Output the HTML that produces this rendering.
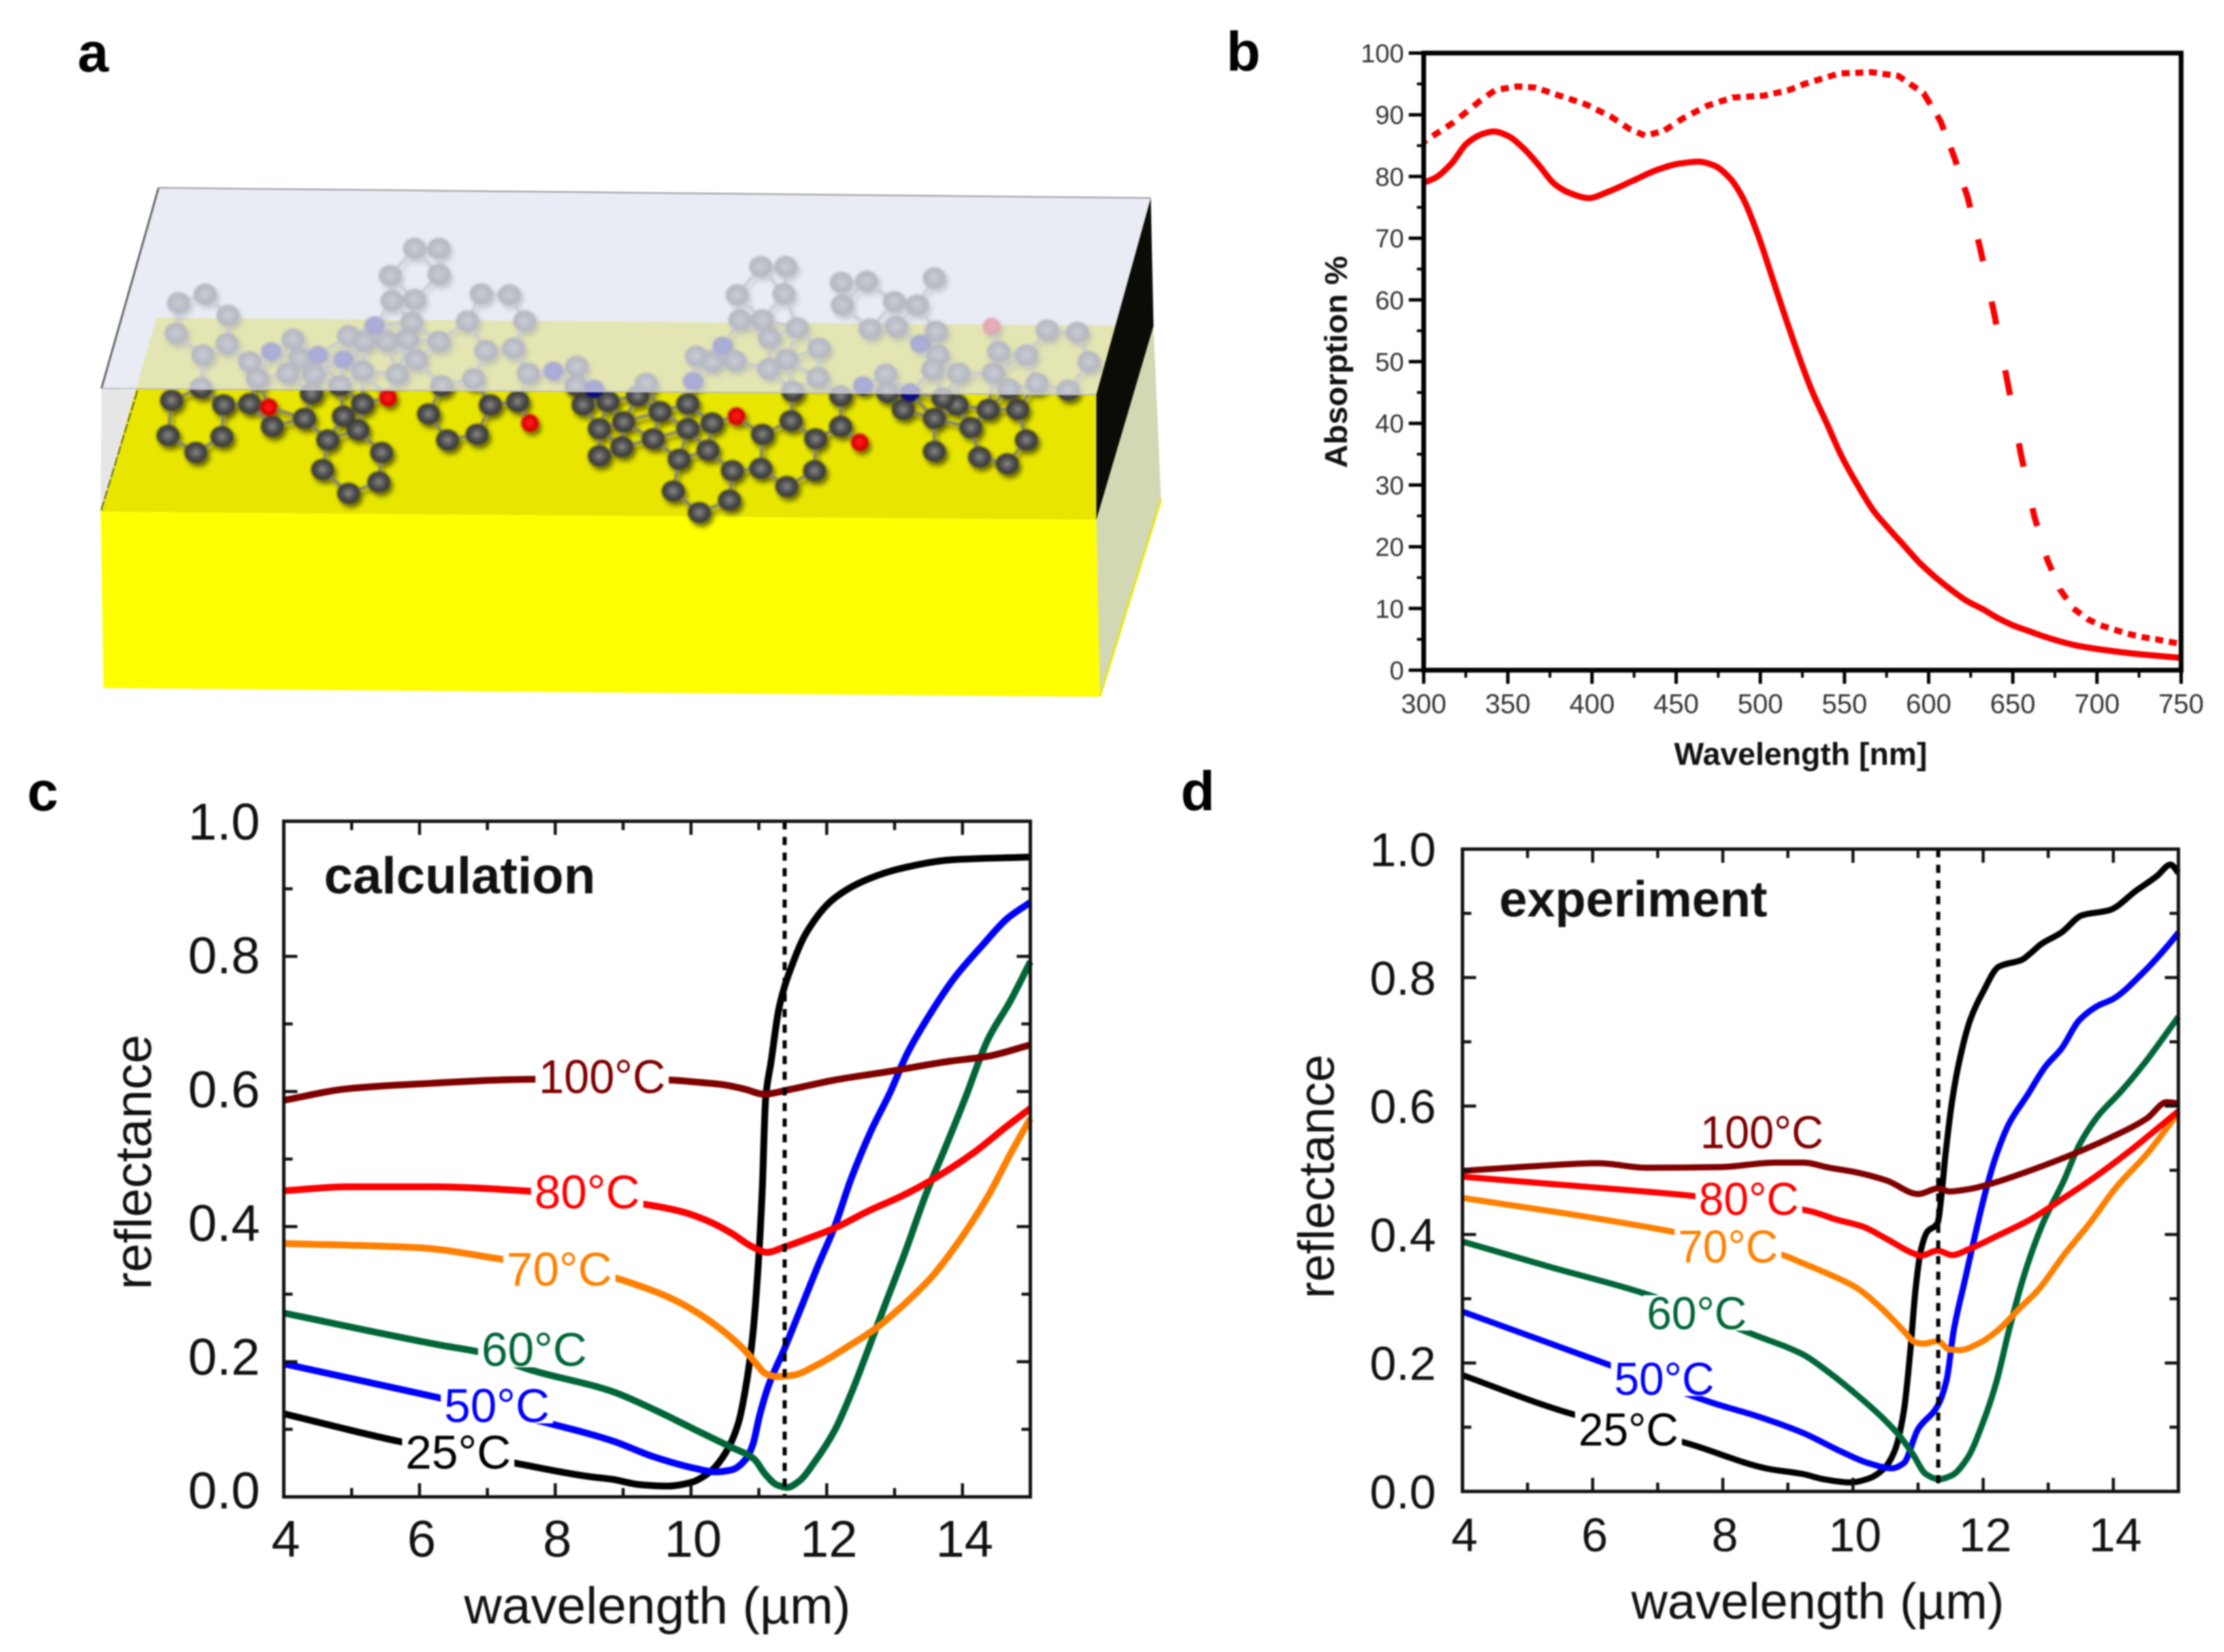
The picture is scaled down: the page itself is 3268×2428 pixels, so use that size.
<!DOCTYPE html>
<html lang="en">
<head>
<meta charset="utf-8">
<title>Reflectance figure</title>
<style>
html,body{margin:0;padding:0;background:#fff;}
svg{display:block;filter:blur(1px);}
text{font-family:"Liberation Sans",sans-serif;}
</style>
</head>
<body>
<svg id="fig" xmlns="http://www.w3.org/2000/svg" width="3268" height="2428" viewBox="0 0 3268 2428">
<defs>
<radialGradient id="atomFill" cx="50%" cy="50%" r="55%">
<stop offset="0%" stop-color="#8c8c8c"/><stop offset="40%" stop-color="#5a5a5a"/><stop offset="100%" stop-color="#2a2a2a"/>
</radialGradient>
<radialGradient id="redFill" cx="50%" cy="50%" r="55%">
<stop offset="0%" stop-color="#ff2020"/><stop offset="70%" stop-color="#e00000"/><stop offset="100%" stop-color="#900"/>
</radialGradient>
<radialGradient id="blueFill" cx="50%" cy="50%" r="55%">
<stop offset="0%" stop-color="#1a1aa0"/><stop offset="100%" stop-color="#00006a"/>
</radialGradient>
<filter id="atomShadow" x="-5%" y="-5%" width="110%" height="110%">
<feGaussianBlur in="SourceAlpha" stdDeviation="3.5" result="b"/>
<feOffset in="b" dx="4" dy="6" result="o"/>
<feComponentTransfer in="o" result="s"><feFuncA type="linear" slope="0.55"/></feComponentTransfer>
<feMerge><feMergeNode in="s"/><feMergeNode in="SourceGraphic"/></feMerge>
</filter>
</defs>

<rect width="3268" height="2428" fill="#fff"/>

<g>
<polygon points="1695,479 1706,734 1616,1024 1611,764" fill="#d3d8b4"/>
<line x1="1706" y1="734" x2="1616" y2="1024" stroke="#e6e600" stroke-width="3"/>
<polygon points="149,571 202,574 148,752" fill="#e6e6e6"/>
<polygon points="230,467 1695,479 1611,764 148,752" fill="#e8e600"/>
<polygon points="148,752 1611,764 1616,1024 152,1011" fill="#ffff00"/>
<line x1="202" y1="574" x2="148" y2="752" stroke="#5a5a20" stroke-width="2" stroke-dasharray="14 3"/>
<g id="molecules" filter="url(#atomShadow)" style="filter:url(#atomShadow) blur(1.5px)"></g>
<polygon points="233,276 1691,291 1611,580 149,571" fill="rgb(225,228,242)" fill-opacity="0.74"/>
<line x1="233" y1="276" x2="149" y2="571" stroke="#666" stroke-width="3"/>
<line x1="233" y1="276" x2="1691" y2="291" stroke="#999" stroke-width="2"/>
<line x1="149" y1="571" x2="1611" y2="580" stroke="#bbb" stroke-width="2"/>
<polygon points="1691,291 1695,479 1611,764 1611,580" fill="#0c0c06"/>
</g>

<text x="114" y="105" font-size="82" font-weight="700">a</text>
<text x="1802" y="104" font-size="82" font-weight="700">b</text>
<text x="40" y="1191" font-size="82" font-weight="700">c</text>
<text x="1735" y="1191" font-size="82" font-weight="700">d</text>

<g id="chartB"></g>
<g id="chartC"></g>
<g id="chartD"></g>
</svg>

<script>
/* ---------- Panel b data ---------- */
const bXTickLabels = ['300','350','400','450','500','550','600','650','700','750'];
const bYTickLabels = ['0','10','20','30','40','50','60','70','80','90','100'];
const bSolidX = [300,307,316.5,325.8,335,341.5,349.9,359.2,368.5,377.7,387,398.2,409.3,424.2,439,452,463.2,472.4,481.7,489.1,498.4,507.7,517,530,539.3,548.6,557.8,567.1,576.4,585.7,595,604.3,613.5,622.8,632.1,641.4,650.7,660,669.2,687.8,706.4,725,750];
const bSolidY = [79,79.8,82.1,85.4,86.9,87.3,86.6,84.6,81.8,78.8,77.3,76.5,77.5,79.3,81.1,82.1,82.4,81.8,79.8,76.8,70.7,63.1,55.5,45.7,40.1,34.5,30,25.9,22.9,20.1,17.3,15,13,11.2,9.9,8.4,7.2,6.3,5.4,4,3.2,2.6,2];
const bDottedX = [300,317.4,333.2,342.5,355.5,366.6,379.6,396.3,411.2,422.3,431.6,442.7,453.9,468.7,483.6,502.1,517,526.3,547,566,582,597,607,615,623,630.5,639,647,654.8,662.7,670.5,678,686,694.3,701.7,710,718.4,725.9,735,747,750];
const bDottedY = [85.6,88.7,92.2,94,94.6,94.4,93.2,91.7,89.7,87.7,86.6,87.4,89.4,91.5,92.8,93.1,94,95,96.7,96.9,96.3,93.5,89,83.3,76.8,68.5,57.7,46.5,35,25,17.9,13.1,10,8.3,7.3,6.6,5.9,5.4,5,4.4,4.2];

/* ---------- Panels c/d shared ticks ---------- */
const wavelengthTickLabels = ['4','6','8','10','12','14'];
const reflectanceTickLabels = ['0.0','0.2','0.4','0.6','0.8','1.0'];

/* ---------- Panel c data (calculation) ---------- */
const c25X = [4,5.66,7.4,8.5,8.84,9.25,9.66,9.99,10.28,10.52,10.7,10.81,10.91,10.99,11.05,11.1,11.18,11.3,11.5,11.7,12.1,12.6,13.13,13.85,15];
const c25Y = [.123,.083,.05,.03,.026,.018,.016,.021,.037,.067,.11,.164,.239,.342,.455,.59,.644,.725,.79,.835,.885,.914,.931,.943,.947];
const c50X = [4,6.27,7.9,8.84,9.46,10.07,10.36,10.6,10.81,10.91,11.01,11.14,11.38,11.63,11.87,12.12,12.36,12.65,12.94,13.18,13.47,13.88,14.29,14.66,15];
const c50Y = [.197,.147,.109,.083,.059,.042,.037,.04,.056,.077,.12,.164,.22,.282,.342,.401,.471,.541,.6,.655,.706,.768,.816,.856,.88];
const c60X = [4,6.34,6.9,7.6,8.84,9.46,10.07,10.56,10.93,11.09,11.26,11.42,11.59,11.83,12.12,12.36,12.61,12.85,13.14,13.47,13.76,14.04,14.37,14.7,15];
const c60Y = [.272,.224,.214,.189,.156,.129,.099,.075,.056,.034,.018,.014,.023,.053,.099,.153,.218,.282,.358,.45,.52,.59,.676,.733,.792];
const c70X = [4,5.96,7.2,8.84,9.25,9.66,10.07,10.48,10.81,10.97,11.09,11.26,11.5,11.87,12.32,12.73,13.14,13.55,13.96,14.37,14.74,15];
const c70Y = [.375,.369,.352,.325,.312,.296,.274,.245,.215,.196,.183,.178,.18,.196,.223,.25,.285,.326,.38,.444,.514,.56];
const c80X = [4,4.94,6.17,7.55,9.25,9.87,10.28,10.6,10.89,11.12,11.38,11.71,12.12,12.61,13.14,13.63,14.16,14.66,15];
const c80Y = [.453,.459,.459,.453,.434,.422,.407,.39,.371,.362,.37,.382,.398,.423,.447,.474,.509,.549,.575];
const c100X = [4,4.94,5.96,7.7,9.64,10.07,10.48,10.81,11.07,11.46,12.12,12.94,13.76,14.37,15];
const c100Y = [.587,.604,.611,.618,.617,.614,.61,.603,.596,.603,.617,.63,.644,.652,.669];

/* ---------- Panel d data (experiment) ---------- */
const d25X = [4,5.57,7.45,8.71,9.235,9.55,9.96,10.24,10.48,10.64,10.78,10.88,10.96,11.04,11.14,11.3,11.36,11.42,11.52,11.64,11.8,12,12.24,12.6,12.74,12.89,13.2,13.52,13.94,14.36,14.67,14.88,15];
const d25Y = [.181,.124,.075,.035,.027,.019,.014,.02,.036,.063,.124,.218,.313,.374,.404,.418,.462,.523,.606,.673,.734,.778,.817,.828,.839,.852,.87,.897,.905,.936,.958,.976,.963];
const d50X = [4,6.2,7.87,8.5,9.235,9.84,10.24,10.6,10.78,11,11.3,11.44,11.55,11.72,11.88,12.04,12.2,12.4,12.68,12.96,13.2,13.48,13.76,14,14.44,14.84,15];
const d50Y = [.28,.199,.137,.118,.091,.061,.044,.036,.044,.097,.133,.174,.252,.329,.401,.468,.523,.573,.617,.662,.689,.734,.756,.767,.806,.85,.87];
const d60X = [4,5.36,6.77,8.5,9.235,9.635,10.04,10.44,10.72,10.92,11.12,11.32,11.52,11.76,12,12.2,12.4,12.64,12.92,13.24,13.48,13.76,14.12,14.48,15];
const d60Y = [.389,.349,.309,.243,.213,.185,.152,.116,.086,.058,.027,.019,.025,.052,.108,.169,.252,.34,.418,.484,.54,.584,.623,.667,.739];
const d70X = [4,5.57,7.14,8.92,9.235,9.635,10.04,10.44,10.76,10.96,11.08,11.3,11.48,11.64,11.96,12.24,12.56,12.84,13.24,13.64,14.04,14.52,15];
const d70Y = [.457,.433,.406,.368,.355,.338,.318,.285,.252,.232,.23,.234,.221,.22,.232,.252,.285,.313,.368,.418,.473,.526,.59];
const d80X = [4,5.57,7.45,9.315,9.755,10.16,10.52,10.92,11.04,11.3,11.52,11.8,12.24,12.72,13.24,13.64,14.24,14.64,15];
const d80Y = [.49,.477,.461,.437,.423,.412,.393,.371,.367,.375,.368,.378,.399,.423,.457,.484,.529,.562,.592];
const d100X = [4,5.05,6.09,6.82,7.97,8.8,9.235,9.635,10.04,10.52,11,11.32,11.48,11.8,12.12,12.76,13.4,13.96,14.52,14.82,15];
const d100Y = [.499,.506,.511,.504,.505,.512,.512,.504,.497,.484,.463,.472,.467,.471,.479,.501,.526,.551,.581,.606,.604];

/* ---------- Panel a atom sketch coordinates ---------- */
const atomsLeft = [[200,865],[190,1020],[270,1095],[345,1025],[350,885],[285,810],[425,880],[490,980],[583,945],[603,835],[650,1040],[737,995],[750,880],[695,935],[685,800],[805,1095],[797,1225],[710,1275],[635,1170],[940,925],[995,1040],[1080,1015],[1118,885],[1197,870],[1385,885],[220,435],[297,397],[363,490],[213,570],[290,665],[360,615],[425,695],[447,770],[550,595],[535,745],[570,680],[610,750],[710,580],[755,605],[820,605],[880,595],[892,520],[905,685],[970,605],[850,750],[750,735],[835,425],[900,420],[830,315],[900,195],[970,195],[970,310],[1092,395],[1173,400],[1052,515],[1217,515],[1105,645],[1185,635],[1070,770],[1227,745],[978,800],[1367,715],[1365,800]];
const nitrogenLeft = [[487,650],[622,665],[695,685],[785,535],[1300,735]];
const oxygenLeft = [[480,895],[823,853],[1232,965]];
const atomsRight = [[85,870],[170,845],[235,915],[315,880],[60,990],[125,1070],[60,1110],[130,960],[215,1035],[315,990],[385,965],[290,1125],[373,1085],[443,1175],[435,1305],[348,1360],[273,1265],[617,825],[612,955],[530,1015],[525,1165],[600,1245],[680,1175],[683,1035],[755,980],[755,845],[935,905],[890,830],[1025,945],[1025,1090],[1090,885],[1130,985],[1155,1115],[1235,1145],[1290,1040],[1265,905],[1180,905],[1050,855],[525,275],[597,275],[457,400],[592,395],[465,510],[530,510],[550,590],[630,545],[693,635],[600,685],[548,725],[690,765],[340,670],[385,695],[450,690],[195,790],[885,750],[757,345],[830,340],[760,445],[840,550],[910,430],[915,540],[975,445],[1025,325],[1030,560],[1035,665],[1020,730],[1095,745],[1195,745],[1210,650],[1290,665],[1350,555],[1437,565],[1470,695],[1320,790],[1410,820],[1240,815]];
const nitrogenRight = [[45,815],[415,625],[330,780],[820,800],[955,830],[985,615]];
const oxygenRight = [[455,935],[810,1050],[1190,540]];

/* ---------- Helpers ---------- */
const NS = 'http://www.w3.org/2000/svg';
function mk(parent, tag, name, attrs) {
  const el = document.createElementNS(NS, tag);
  
  
  for (const k in attrs) el.setAttribute(k, attrs[k]);
  parent.appendChild(el);
  return el;
}
function txt(parent, name, str, attrs) {
  const el = mk(parent, 'text', name, attrs);
  el.textContent = str;
  return el;
}
function scale(d0, d1, r0, r1) { return v => r0 + (v - d0) * (r1 - r0) / (d1 - d0); }

/* monotone cubic through data points, so curves stay smooth with no overshoot */
function curvePath(xs, ys) {
  const n = xs.length, m = [], dx = [], s = [];
  for (let i = 0; i < n - 1; i++) { dx[i] = xs[i+1] - xs[i]; s[i] = (ys[i+1] - ys[i]) / dx[i]; }
  m[0] = s[0]; m[n-1] = s[n-2];
  for (let i = 1; i < n - 1; i++) {
    if (s[i-1] * s[i] <= 0) m[i] = 0;
    else {
      const w1 = 2 * dx[i] + dx[i-1], w2 = dx[i] + 2 * dx[i-1];
      m[i] = (w1 + w2) / (w1 / s[i-1] + w2 / s[i]);
    }
  }
  let d = 'M' + xs[0].toFixed(1) + ' ' + ys[0].toFixed(1);
  for (let i = 0; i < n - 1; i++) {
    const h = dx[i] / 3;
    d += 'C' + (xs[i] + h).toFixed(1) + ' ' + (ys[i] + m[i] * h).toFixed(1) + ' ' +
         (xs[i+1] - h).toFixed(1) + ' ' + (ys[i+1] - m[i+1] * h).toFixed(1) + ' ' +
         xs[i+1].toFixed(1) + ' ' + ys[i+1].toFixed(1);
  }
  return d;
}
function series(parent, name, xData, yData, sx, sy, color, width) {
  mk(parent, 'path', name, {
    d: curvePath(xData.map(sx), yData.map(sy)),
    fill: 'none', stroke: color, 'stroke-width': width, 'stroke-linejoin': 'round'
  });
}
function valueAt(xData, yData, x) {
  for (let i = 0; i < xData.length - 1; i++) {
    if (x <= xData[i+1]) {
      return yData[i] + (yData[i+1] - yData[i]) * (x - xData[i]) / (xData[i+1] - xData[i]);
    }
  }
  return yData[yData.length - 1];
}

/* ---------- Panel a ---------- */
(function () {
  const g = document.getElementById('molecules');
  const ax = z => 150 + z / 1.96, bx = z => 850 + z / 1.96, py = z => 300 + z / 3;
  const carbons = atomsLeft.map(p => [ax(p[0]), py(p[1])]).concat(atomsRight.map(p => [bx(p[0]), py(p[1])]));
  const nitrogens = nitrogenLeft.map(p => [ax(p[0]), py(p[1])]).concat(nitrogenRight.map(p => [bx(p[0]), py(p[1])]));
  const oxygens = oxygenLeft.map(p => [ax(p[0]), py(p[1])]).concat(oxygenRight.map(p => [bx(p[0]), py(p[1])]));
  const all = carbons.concat(nitrogens, oxygens);
  for (let i = 0; i < all.length; i++) {
    for (let j = i + 1; j < all.length; j++) {
      const dist = Math.hypot(all[i][0] - all[j][0], all[i][1] - all[j][1]);
      if (dist < 56) {
        mk(g, 'line', 'molecule-bond', { x1: all[i][0], y1: all[i][1], x2: all[j][0], y2: all[j][1], stroke: '#777', 'stroke-width': 4 });
      }
    }
  }
  carbons.forEach(p => mk(g, 'ellipse', 'carbon-atom', { cx: p[0], cy: p[1], rx: 17, ry: 15.5, fill: 'url(#atomFill)' }));
  nitrogens.forEach(p => mk(g, 'ellipse', 'nitrogen-atom', { cx: p[0], cy: p[1], rx: 15, ry: 13.5, fill: 'url(#blueFill)' }));
  oxygens.forEach(p => mk(g, 'ellipse', 'oxygen-atom', { cx: p[0], cy: p[1], rx: 13, ry: 13, fill: 'url(#redFill)' }));
})();

/* ---------- Panel b ---------- */
(function () {
  const g = document.getElementById('chartB');
  const L = 2092, R = 3205, T = 78, B = 985;
  const sx = scale(300, 750, L, R), sy = scale(0, 100, B, T);
  series(g, 'absorption-solid-line', bSolidX, bSolidY, sx, sy, '#f80000', 9);
  /* dash period follows the wavelength axis; dashes shorten on the steep flank */
  const period = 8.1;
  for (let w = 297.2; w < 750; w += period) {
    const a = Math.max(300, w);
    const slope = Math.abs(valueAt(bDottedX, bDottedY, a + 1) - valueAt(bDottedX, bDottedY, a));
    const len = 4.8 - 2 * Math.min(1, slope / 1.2);
    const b = Math.min(750, w + len);
    if (b <= a) continue;
    const xs = [a], ys = [valueAt(bDottedX, bDottedY, a)];
    bDottedX.forEach((v, i) => { if (v > a && v < b) { xs.push(v); ys.push(bDottedY[i]); } });
    xs.push(b); ys.push(valueAt(bDottedX, bDottedY, b));
    mk(g, 'polyline', 'absorption-dotted-segment', {
      points: xs.map((v, i) => sx(v).toFixed(1) + ',' + sy(ys[i]).toFixed(1)).join(' '),
      fill: 'none', stroke: '#f80000', 'stroke-width': 9
    });
  }
  mk(g, 'rect', 'plot-frame', { x: L, y: T, width: R - L, height: B - T, fill: 'none', stroke: '#000', 'stroke-width': 7 });
  bXTickLabels.forEach(lbl => {
    const v = parseFloat(lbl), x = sx(v);
    mk(g, 'line', 'x-tick', { x1: x, y1: B, x2: x, y2: B + 20, stroke: '#000', 'stroke-width': 5 });
    txt(g, 'x-tick-label', lbl, { x: x, y: B + 63, 'font-size': 40, 'text-anchor': 'middle', fill: '#333' });
    if (v < 750) {
      const xm = sx(v + 25);
      mk(g, 'line', 'x-minor-tick', { x1: xm, y1: B, x2: xm, y2: B + 11, stroke: '#000', 'stroke-width': 4 });
    }
  });
  bYTickLabels.forEach(lbl => {
    const v = parseFloat(lbl), y = sy(v);
    mk(g, 'line', 'y-tick', { x1: L, y1: y, x2: L - 22, y2: y, stroke: '#000', 'stroke-width': 5 });
    txt(g, 'y-tick-label', lbl, { x: 2063, y: y + 13.5, 'font-size': 38, 'text-anchor': 'end', fill: '#333' });
    if (v < 100) {
      const ym = sy(v + 5);
      mk(g, 'line', 'y-minor-tick', { x1: L, y1: ym, x2: L - 10, y2: ym, stroke: '#000', 'stroke-width': 4 });
    }
  });
  txt(g, 'x-axis-title', 'Wavelength [nm]', { x: 2646, y: 1124, 'font-size': 46, 'font-weight': 700, 'text-anchor': 'middle', textLength: 372, lengthAdjust: 'spacingAndGlyphs', fill: '#111' });
  txt(g, 'y-axis-title', 'Absorption %', { transform: 'translate(1979,532) rotate(-90)', 'font-size': 46, 'font-weight': 700, 'text-anchor': 'middle', textLength: 312, lengthAdjust: 'spacingAndGlyphs', fill: '#111' });
})();

/* ---------- Panels c and d ---------- */
const tempColors = { t25: '#000000', t50: '#0000ff', t60: '#006638', t70: '#ff8000', t80: '#ff0000', t100: '#800000' };

function reflectanceChart(g, box, text, seriesList, labels) {
  const sx = scale(4, 15, box.L, box.R), sy = scale(0, 1, box.B, box.T);
  seriesList.forEach(s => series(g, s.name, s.x, s.y, sx, sy, s.color, box.lineWidth));
  labels.forEach(l => {
    const px = sx(l.x), py = sy(l.y), w = l.text.length > 4 ? box.wideLabel : box.narrowLabel;
    mk(g, 'rect', 'curve-label-mask', { x: px - w / 2 - 5, y: py - 26, width: w + 10, height: 52, fill: '#fff' });
    txt(g, 'curve-label', l.text, { x: px, y: py + 24, 'font-size': box.labelSize, 'text-anchor': 'middle', textLength: w, lengthAdjust: 'spacingAndGlyphs', fill: l.color });
  });
  const dashX = sx(box.dash);
  mk(g, 'line', 'resonance-marker-line', { x1: dashX, y1: box.T, x2: dashX, y2: box.B, stroke: '#000', 'stroke-width': 6, 'stroke-dasharray': '12 11' });
  mk(g, 'rect', 'plot-frame', { x: box.L, y: box.T, width: box.R - box.L, height: box.B - box.T, fill: 'none', stroke: '#111', 'stroke-width': 5 });
  for (let w = 4; w <= 15; w++) {
    const x = sx(w), major = w % 2 === 0, t = major ? 20 : 13;
    mk(g, 'line', 'x-tick', { x1: x, y1: box.B, x2: x, y2: box.B - t, stroke: '#111', 'stroke-width': 4.5 });
    mk(g, 'line', 'x-top-tick', { x1: x, y1: box.T, x2: x, y2: box.T + t, stroke: '#111', 'stroke-width': 4.5 });
  }
  for (let i = 1; i < 10; i++) {
    const y = sy(i / 10), t = i % 2 === 0 ? 20 : 13;
    mk(g, 'line', 'y-tick', { x1: box.L, y1: y, x2: box.L + t, y2: y, stroke: '#111', 'stroke-width': 4.5 });
    mk(g, 'line', 'y-right-tick', { x1: box.R, y1: y, x2: box.R - t, y2: y, stroke: '#111', 'stroke-width': 4.5 });
  }
  wavelengthTickLabels.forEach(lbl => {
    txt(g, 'x-tick-label', lbl, { x: sx(parseFloat(lbl)) + 3, y: box.xLabelY, 'font-size': box.tickSize, 'text-anchor': 'middle', fill: '#111' });
  });
  reflectanceTickLabels.forEach(lbl => {
    const v = parseFloat(lbl);
    txt(g, 'y-tick-label', lbl, { x: box.yLabelX, y: sy(v) + box.tickSize * 0.357 - box.labelDrift * (1 - v), 'font-size': box.tickSize, 'text-anchor': 'end', fill: '#111' });
  });
  txt(g, 'x-axis-title', 'wavelength (µm)', { x: box.xTitleX, y: box.xTitleY, 'font-size': box.titleSize, 'text-anchor': 'middle', textLength: box.xTitleLen, lengthAdjust: 'spacingAndGlyphs', fill: '#111' });
  txt(g, 'y-axis-title', 'reflectance', { transform: 'translate(' + box.yTitleX + ',' + box.yTitleY + ') rotate(-90)', 'font-size': box.titleSize, 'text-anchor': 'middle', textLength: box.yTitleLen, lengthAdjust: 'spacingAndGlyphs', fill: '#111' });
  txt(g, 'panel-title', text.str, { x: text.x, y: text.y, 'font-size': box.titleSize, 'font-weight': 700, textLength: text.len, lengthAdjust: 'spacingAndGlyphs', fill: '#111' });
}

reflectanceChart(document.getElementById('chartC'),
  { L: 417, R: 1514, T: 1207, B: 2200, dash: 11.38, lineWidth: 10, tickSize: 76, labelDrift: 10, labelSize: 70, wideLabel: 186, narrowLabel: 155, xLabelY: 2288, yLabelX: 382, xTitleX: 966, xTitleY: 2386, titleSize: 76, xTitleLen: 568, yTitleX: 222, yTitleY: 1708, yTitleLen: 375 },
  { str: 'calculation', x: 476, y: 1313, len: 399 },
  [
    { name: 'line-25c', x: c25X, y: c25Y, color: tempColors.t25 },
    { name: 'line-50c', x: c50X, y: c50Y, color: tempColors.t50 },
    { name: 'line-60c', x: c60X, y: c60Y, color: tempColors.t60 },
    { name: 'line-70c', x: c70X, y: c70Y, color: tempColors.t70 },
    { name: 'line-80c', x: c80X, y: c80Y, color: tempColors.t80 },
    { name: 'line-100c', x: c100X, y: c100Y, color: tempColors.t100 }
  ],
  [
    { text: '100°C', x: 8.69, y: .622, color: tempColors.t100 },
    { text: '80°C', x: 8.47, y: .451, color: tempColors.t80 },
    { text: '70°C', x: 8.06, y: .337, color: tempColors.t70 },
    { text: '60°C', x: 7.69, y: .218, color: tempColors.t60 },
    { text: '50°C', x: 7.14, y: .135, color: tempColors.t50 },
    { text: '25°C', x: 6.57, y: .066, color: tempColors.t25 }
  ]);

reflectanceChart(document.getElementById('chartD'),
  { L: 2149, R: 3201, T: 1248, B: 2192, dash: 11.31, lineWidth: 9, tickSize: 70, labelDrift: 0, labelSize: 68, wideLabel: 181, narrowLabel: 147, xLabelY: 2280, yLabelX: 2110, xTitleX: 2671, xTitleY: 2379, titleSize: 74, xTitleLen: 548, yTitleX: 1960, yTitleY: 1729, yTitleLen: 359 },
  { str: 'experiment', x: 2203, y: 1347, len: 394 },
  [
    { name: 'line-25c', x: d25X, y: d25Y, color: tempColors.t25 },
    { name: 'line-50c', x: d50X, y: d50Y, color: tempColors.t50 },
    { name: 'line-60c', x: d60X, y: d60Y, color: tempColors.t60 },
    { name: 'line-70c', x: d70X, y: d70Y, color: tempColors.t70 },
    { name: 'line-80c', x: d80X, y: d80Y, color: tempColors.t80 },
    { name: 'line-100c', x: d100X, y: d100Y, color: tempColors.t100 }
  ],
  [
    { text: '100°C', x: 8.6, y: .56, color: tempColors.t100 },
    { text: '80°C', x: 8.4, y: .456, color: tempColors.t80 },
    { text: '70°C', x: 8.08, y: .382, color: tempColors.t70 },
    { text: '60°C', x: 7.6, y: .278, color: tempColors.t60 },
    { text: '50°C', x: 7.1, y: .176, color: tempColors.t50 },
    { text: '25°C', x: 6.55, y: .097, color: tempColors.t25 }
  ]);
</script>
</body>
</html>
